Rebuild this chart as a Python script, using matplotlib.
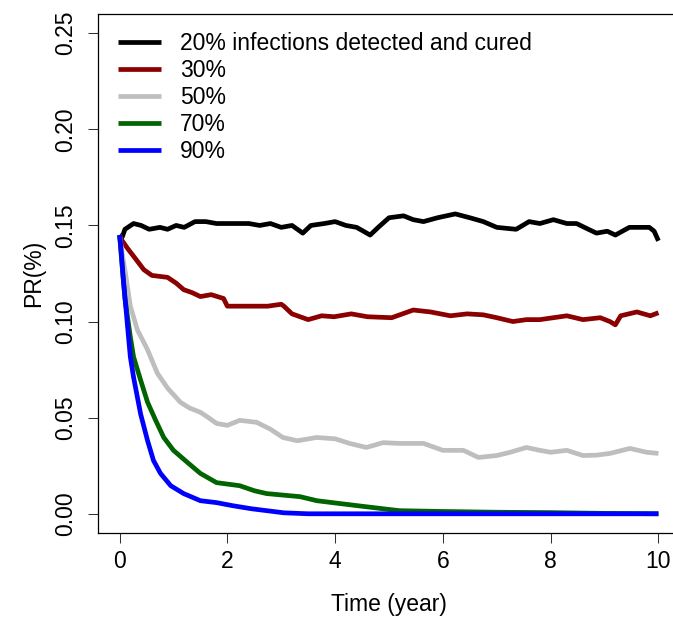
import numpy as np
import matplotlib
matplotlib.use("Agg")
import matplotlib.pyplot as plt

plt.rcParams['font.family'] = ['Liberation Sans', 'DejaVu Sans']

## values (time in years, PR in %)
t_20 = [0, 0.05, 0.1, 0.26, 0.4, 0.55, 0.75, 0.89, 1.05, 1.2, 1.4, 1.6, 1.8, 2.1, 2.4,
        2.6, 2.8, 3.0, 3.2, 3.4, 3.55, 3.8, 4.0, 4.2, 4.4, 4.65, 4.8, 5.0, 5.27, 5.45,
        5.64, 5.9, 6.23, 6.5, 6.75, 7.0, 7.36, 7.6, 7.8, 8.05, 8.3, 8.48, 8.7, 8.85,
        9.05, 9.2, 9.46, 9.65, 9.83, 9.92, 10.0]
pr_20 = [0.145, 0.144, 0.148, 0.151, 0.150, 0.148, 0.149, 0.148, 0.150, 0.149, 0.152, 0.152,
         0.151, 0.151, 0.151, 0.150, 0.151, 0.149, 0.150, 0.146, 0.150, 0.151, 0.152, 0.150,
         0.149, 0.145, 0.149, 0.154, 0.155, 0.153, 0.152, 0.154, 0.156, 0.154, 0.152, 0.149,
         0.148, 0.152, 0.151, 0.153, 0.151, 0.151, 0.148, 0.146, 0.147, 0.145, 0.149, 0.149,
         0.149, 0.147, 0.142]

t_30 = [0, 0.05, 0.15, 0.26, 0.45, 0.6, 0.89, 1.05, 1.19, 1.35, 1.5, 1.7, 1.93, 2.0, 2.1,
        2.4, 2.75, 3.0, 3.05, 3.2, 3.5, 3.75, 3.98, 4.3, 4.6, 5.05, 5.25, 5.45, 5.77, 6.14,
        6.45, 6.75, 7.0, 7.3, 7.55, 7.8, 8.05, 8.3, 8.6, 8.92, 9.1, 9.2, 9.3, 9.45, 9.6,
        9.85, 10.0]
pr_30 = [0.145, 0.142, 0.138, 0.134, 0.127, 0.124, 0.123, 0.120, 0.1166, 0.115, 0.113, 0.114,
         0.112, 0.108, 0.108, 0.108, 0.108, 0.109, 0.108, 0.104, 0.101, 0.103, 0.1025, 0.104,
         0.1025, 0.102, 0.104, 0.106, 0.105, 0.103, 0.104, 0.1035, 0.102, 0.100, 0.101,
         0.101, 0.102, 0.103, 0.101, 0.102, 0.100, 0.0983, 0.103, 0.104, 0.105, 0.103, 0.1046]

t_50 = [0, 0.05, 0.11, 0.2, 0.33, 0.52, 0.70, 0.89, 1.13, 1.3, 1.5, 1.65, 1.8, 2.0, 2.23,
        2.54, 2.8, 3.03, 3.3, 3.66, 4.0, 4.27, 4.58, 4.89, 5.2, 5.64, 6.0, 6.38, 6.66, 7.0,
        7.25, 7.55, 7.8, 8.0, 8.3, 8.6, 8.85, 9.1, 9.47, 9.78, 10.0]
pr_50 = [0.145, 0.135, 0.125, 0.108, 0.0957, 0.0853, 0.0732, 0.0654, 0.058, 0.055, 0.0528,
         0.050, 0.047, 0.046, 0.0486, 0.0476, 0.044, 0.0397, 0.038, 0.0397, 0.039, 0.0366,
         0.0345, 0.037, 0.0366, 0.0366, 0.033, 0.033, 0.0293, 0.0303, 0.032, 0.0345, 0.033,
         0.032, 0.033, 0.0303, 0.0305, 0.0314, 0.034, 0.032, 0.0314]

t_70 = [0, 0.05, 0.1, 0.2, 0.26, 0.39, 0.52, 0.67, 0.82, 1.0, 1.26, 1.5, 1.8, 2.23, 2.5,
        2.73, 3.35, 3.66, 4.27, 4.89, 5.2, 6.0, 7.0, 8.0, 8.5, 9.0, 10.0]
pr_70 = [0.145, 0.128, 0.112, 0.092, 0.0816, 0.0696, 0.058, 0.0486, 0.0397, 0.033, 0.0267,
         0.021, 0.0162, 0.0146, 0.012, 0.0105, 0.0089, 0.0068, 0.0047, 0.0026, 0.0016,
         0.0012, 0.0008, 0.0006, 0.0004, 0.0002, 0.0]

t_90 = [0, 0.02, 0.07, 0.15, 0.2, 0.26, 0.39, 0.52, 0.63, 0.76, 0.95, 1.19, 1.5, 1.8, 2.1,
        2.45, 3.05, 3.5, 10.0]
pr_90 = [0.145, 0.14, 0.122, 0.097, 0.0816, 0.071, 0.052, 0.038, 0.0277, 0.021, 0.0146,
         0.0105, 0.0068, 0.0058, 0.0042, 0.0026, 0.0005, 0.0, 0.0]

labels = ['20% infections detected and cured', '30%', '50%', '70%', '90%']
colors = ['black', '#8B0000', '#BEBEBE', '#006400', '#0000FF']

fig = plt.figure(figsize=(6.73, 6.18), dpi=100)
# the right edge of the box falls outside the picture, like in the reference
ax = fig.add_axes([98/673, 85/618, 582/673, 519/618])

series = [(t_20, pr_20), (t_30, pr_30), (t_50, pr_50), (t_70, pr_70), (t_90, pr_90)]
for (t, pr), c, lab in zip(series, colors, labels):
    ax.plot(t, pr, color=c, lw=3.4, label=lab, solid_capstyle='butt')

ax.set_xlim(-0.4, 10.4)
ax.set_ylim(-0.01, 0.26)
ax.set_xticks([0, 2, 4, 6, 8, 10])
ax.set_yticks([0, 0.05, 0.10, 0.15, 0.20, 0.25])
ax.set_yticklabels(['0.00', '0.05', '0.10', '0.15', '0.20', '0.25'], rotation=90, va='center')
ax.tick_params(direction='out', length=7.2, width=0.75, labelsize=16.5, color='#333333')
ax.tick_params(axis='x', pad=4.8)
ax.tick_params(axis='y', pad=8)
for s in ax.spines.values():
    s.set_linewidth(0.9)
ax.spines['right'].set_visible(False)

ax.set_xlabel('Time (year)', fontsize=16.5)
ax.set_ylabel('PR(%)', fontsize=16.5)
ax.xaxis.set_label_coords(0.5, -0.115)
ax.yaxis.set_label_coords(-0.091, 0.5)

ax.legend(loc='upper left', bbox_to_anchor=(20/582, (533-32)/519), frameon=False,
          fontsize=16.5, handlelength=1.87, handletextpad=0.83, labelspacing=0.17,
          borderpad=0, borderaxespad=0)

plt.savefig('out.png', dpi=100)
